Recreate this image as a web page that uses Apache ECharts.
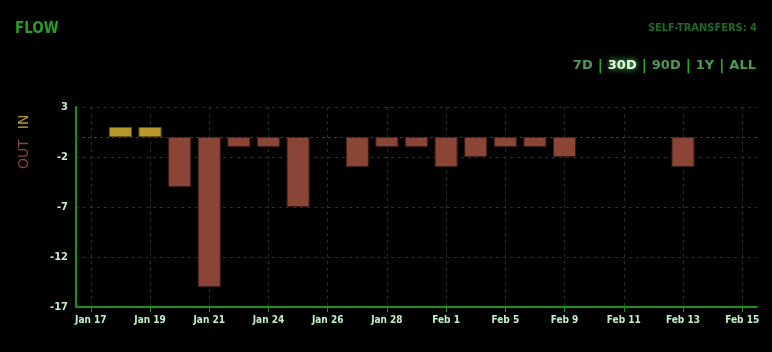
<!DOCTYPE html>
<html><head><meta charset="utf-8">
<script src="https://cdn.jsdelivr.net/npm/echarts@6/dist/echarts.min.js"></script>
<style>html,body{margin:0;padding:0;background:#000;}#c{width:772px;height:352px;}</style>
</head><body><div id="c"></div>
<script>
const categories = ['Jan 17','Jan 18','Jan 19','Jan 20','Jan 21','Jan 22','Jan 24','Jan 25','Jan 26','Jan 27','Jan 28','Jan 30','Feb 1','Feb 3','Feb 5','Feb 7','Feb 9','Feb 10','Feb 11','Feb 12','Feb 13','Feb 14','Feb 15'];
const inValues  = [0,1,1,0,0,0,0,0,0,0,0,0,0,0,0,0,0,0,0,0,0,0,0];
const outValues = [0,0,0,-5,-15,-1,-1,-7,0,-3,-1,-1,-3,-2,-1,-1,-2,0,0,0,-3,0,0];
const yTicks = [-17,-12,-7,-2,3];

const FONT = '"DejaVu Sans Condensed", "DejaVu Sans", sans-serif';
const FONT2 = '"DejaVu Sans", sans-serif';
const hideZero = arr => arr.map(v => v === 0 ? '-' : v);
const chart = echarts.init(document.getElementById('c'), null, {renderer:'canvas'});
chart.setOption({
  backgroundColor:'#000',
  animation:false,
  grid:{left:76,right:15,top:107,bottom:45},
  graphic:[
    {type:'text',left:15,top:22,style:{text:'FLOW',fill:'#2a9a2a',font:'bold 15px '+FONT}},
    {type:'text',right:15,top:23,style:{text:'SELF-TRANSFERS: 4',fill:'#1e6a24',font:'bold 11px '+FONT}},
    {type:'text',right:16,top:59,style:{
      rich:{
        a:{fill:'#4f9a55',font:'bold 13px '+FONT2},
        s:{fill:'#22b022',font:'bold 14px '+FONT2,padding:[0,5]},
        h:{fill:'#e0ffe0',font:'bold 13px '+FONT2,textShadowColor:'#80ff80',textShadowBlur:6}
      },
      text:'{a|7D}{s||}{h|30D}{s||}{a|90D}{s||}{a|1Y}{s||}{a|ALL}'}},
    {type:'text',x:31,y:169,rotation:Math.PI/2,style:{
      x:0,y:0,align:'left',verticalAlign:'bottom',
      rich:{o:{fill:'#8a4536',font:'14px '+FONT2},i:{fill:'#b8992a',font:'14px '+FONT2}},
      text:'{o|OUT}   {i|IN}'}}
  ],
  xAxis:{
    type:'category',data:categories,boundaryGap:true,
    axisLine:{onZero:false,lineStyle:{color:'#1f8f1f',width:2}},
    axisTick:{show:true,alignWithLabel:true,interval:1,length:5,lineStyle:{color:'#1f8f1f'}},
    axisLabel:{interval:1,color:'#c0f0c8',fontFamily:FONT,fontSize:10,fontWeight:'bold',margin:8},
    splitLine:{show:true,interval:1,alignWithLabel:true,lineStyle:{color:'#173a17',type:[3,4]}}
  },
  yAxis:{
    type:'value',min:-17,max:3,interval:5,
    axisLine:{show:true,lineStyle:{color:'#1f8f1f',width:2}},
    axisTick:{show:false},
    axisLabel:{color:'#c0f0c8',fontFamily:FONT,fontSize:11,fontWeight:'bold',margin:8},
    splitLine:{show:true,lineStyle:{color:'#173a17',type:[3,4]}}
  },
  series:[
    {type:'bar',name:'IN',data:hideZero(inValues),barWidth:'78%',barGap:'-100%',
     itemStyle:{color:'#b8992a',borderColor:'#6a5510',borderWidth:1},
     markLine:{silent:true,symbol:'none',label:{show:false},lineStyle:{color:'#3a3a3a',type:[3,3],width:1},data:[{yAxis:0}]}},
    {type:'bar',name:'OUT',data:hideZero(outValues),barWidth:'78%',
     itemStyle:{color:'#8a4536',borderColor:'#3a1a12',borderWidth:1}}
  ]
});
</script></body></html>
